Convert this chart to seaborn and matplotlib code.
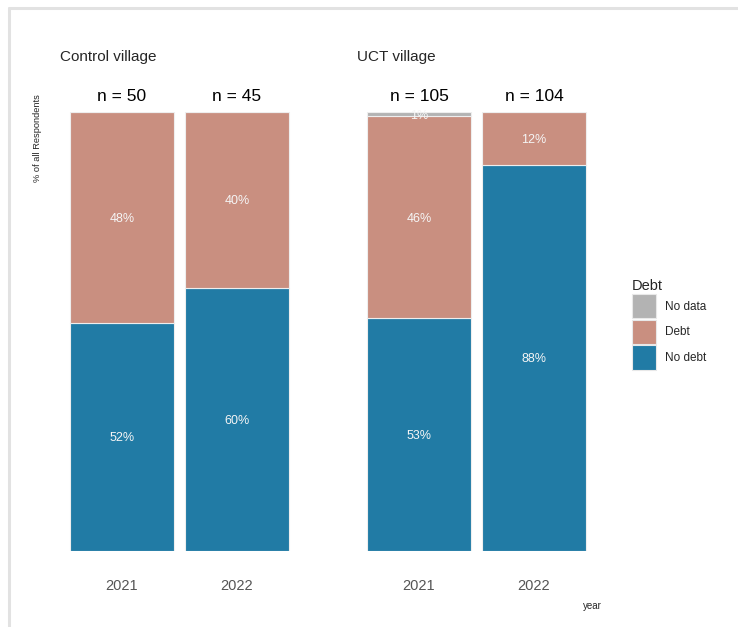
import pandas as pd
import matplotlib.pyplot as plt
from matplotlib.patches import Patch
from matplotlib.lines import Line2D
import seaborn as sns

sns.set_style("white")
plt.rcParams['font.family'] = ['Liberation Sans', 'DejaVu Sans']

# data
villages = ['Control village', 'UCT village']
years = ['2021', '2022']
n_counts = {'Control village': [50, 45], 'UCT village': [105, 104]}
no_debt = {'Control village': [52, 60], 'UCT village': [53, 88]}
debt = {'Control village': [48, 40], 'UCT village': [46, 12]}
no_data = {'Control village': [0, 0], 'UCT village': [1, 0]}

status_order = ['No debt', 'Debt', 'No data']   # bottom -> top
colors = {'No debt': '#217ba5', 'Debt': '#c98f80', 'No data': '#b3b3b3'}

rows = []
for v in villages:
    for i, y in enumerate(years):
        rows.append((v, y, 'No debt', no_debt[v][i]))
        rows.append((v, y, 'Debt', debt[v][i]))
        rows.append((v, y, 'No data', no_data[v][i]))
df = pd.DataFrame(rows, columns=['village', 'year', 'status', 'pct'])

W, H = 738, 627
fig = plt.figure(figsize=(W / 100, H / 100), dpi=100)

axes_left = [53, 350]
for v, left in zip(villages, axes_left):
    ax = fig.add_axes([left / W, (H - 551) / H, 253 / W, 439 / H])
    sub = df[df['village'] == v]
    bottom = [0, 0]
    for s in status_order:
        part = sub[sub['status'] == s]
        vals = part.set_index('year').loc[years, 'pct'].tolist()
        sns.barplot(data=part, x='year', y='pct', order=years, color=colors[s],
                    width=0.9, bottom=bottom, edgecolor='#eeeeee', linewidth=0.8,
                    saturation=1, errorbar=None, ax=ax)
        labels = [f"{p}%" if p > 0 else "" for p in vals]
        txts = ax.bar_label(ax.containers[-1], labels=labels, label_type='center',
                            color='#f5f5f5', fontsize=9)
        for t in txts:
            t.set_va('center_baseline')
        bottom = [b + p for b, p in zip(bottom, vals)]

    for i, n in enumerate(n_counts[v]):
        ax.annotate(f"n = {n}", xy=(i, 100), xytext=(0, 11), textcoords='offset points',
                    ha='center', va='center', fontsize=12.5, color='black')

    ax.set_xlim(-0.6, 1.6)
    ax.set_ylim(0, 100)
    ax.set_xlabel('')
    ax.set_ylabel('')
    ax.set_yticks([])
    ax.tick_params(axis='x', length=0, pad=20, labelsize=10.5, labelcolor='#555555')
    sns.despine(ax=ax, left=True, bottom=True)

    fig.text((left + 7) / W, 1 - 57 / H, v, ha='left', va='center', fontsize=11)

fig.text(37 / W, 1 - 138 / H, '% of all Respondents', rotation=90,
         ha='center', va='center', fontsize=6.7)
fig.text(592 / W, 1 - 606 / H, 'year', ha='center', va='center', fontsize=7)

handles = [Patch(facecolor=colors[s], edgecolor='#e8e8e8', linewidth=0.8)
           for s in ['No data', 'Debt', 'No debt']]
fig.legend(handles, ['No data', 'Debt', 'No debt'], title='Debt',
           loc='upper left', bbox_to_anchor=(621 / W, 1 - 268 / H),
           frameon=False, fontsize=8.5, title_fontsize=10.5,
           handlelength=2.03, handleheight=2.82, labelspacing=0.1,
           handletextpad=0.8, alignment='left')

# light frame around the plot
fig.add_artist(Line2D([9 / W, 1], [1 - 8 / H, 1 - 8 / H], transform=fig.transFigure,
                      color='#e2e2e2', linewidth=2.2))
fig.add_artist(Line2D([9 / W, 9 / W], [0, 1 - 8 / H], transform=fig.transFigure,
                      color='#e2e2e2', linewidth=2.2))

fig.savefig('out.png', dpi=100)
